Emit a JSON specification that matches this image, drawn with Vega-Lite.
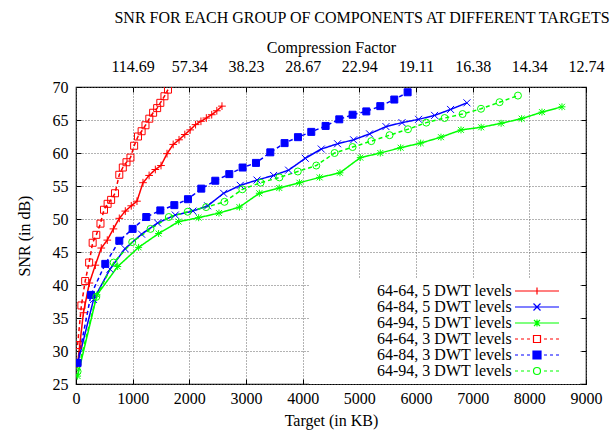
{
  "$schema": "https://vega.github.io/schema/vega-lite/v6.json",
  "width": 510,
  "height": 297,
  "autosize": {"type": "none"},
  "padding": {"left": 76, "top": 87, "right": 29, "bottom": 52},
  "background": "white",
  "title": {"text": "SNR FOR EACH GROUP OF COMPONENTS AT DIFFERENT TARGETS", "font": "Liberation Serif", "fontSize": 16, "fontWeight": "normal", "color": "black", "anchor": "middle", "dx": 31, "offset": 13},
  "config": {
    "view": {"stroke": "black", "strokeWidth": 1.2},
    "axis": {"labelFont": "Liberation Serif", "titleFont": "Liberation Serif", "labelFontSize": 16, "titleFontSize": 16, "titleFontWeight": "normal", "labelColor": "black", "titleColor": "black", "tickColor": "black", "domain": false, "gridColor": "#666666", "gridDash": [1, 2], "gridOpacity": 1, "gridWidth": 1, "tickSize": -5, "labelFlush": false, "labelOverlap": false, "labelBound": false}
  },
  "data": {"values": [
    {"series": "64-64, 5 DWT levels", "target": 28, "snr": 28.0},
    {"series": "64-64, 5 DWT levels", "target": 131, "snr": 35.8},
    {"series": "64-64, 5 DWT levels", "target": 236, "snr": 40.3},
    {"series": "64-64, 5 DWT levels", "target": 341, "snr": 43.0},
    {"series": "64-64, 5 DWT levels", "target": 446, "snr": 45.6},
    {"series": "64-64, 5 DWT levels", "target": 552, "snr": 46.8},
    {"series": "64-64, 5 DWT levels", "target": 660, "snr": 48.5},
    {"series": "64-64, 5 DWT levels", "target": 764, "snr": 50.1},
    {"series": "64-64, 5 DWT levels", "target": 870, "snr": 51.2},
    {"series": "64-64, 5 DWT levels", "target": 975, "snr": 52.0},
    {"series": "64-64, 5 DWT levels", "target": 1076, "snr": 52.7},
    {"series": "64-64, 5 DWT levels", "target": 1182, "snr": 55.5},
    {"series": "64-64, 5 DWT levels", "target": 1290, "snr": 56.6},
    {"series": "64-64, 5 DWT levels", "target": 1400, "snr": 57.5},
    {"series": "64-64, 5 DWT levels", "target": 1500, "snr": 58.1},
    {"series": "64-64, 5 DWT levels", "target": 1606, "snr": 59.9},
    {"series": "64-64, 5 DWT levels", "target": 1715, "snr": 61.3},
    {"series": "64-64, 5 DWT levels", "target": 1818, "snr": 62.0},
    {"series": "64-64, 5 DWT levels", "target": 1920, "snr": 62.8},
    {"series": "64-64, 5 DWT levels", "target": 2015, "snr": 63.5},
    {"series": "64-64, 5 DWT levels", "target": 2110, "snr": 64.3},
    {"series": "64-64, 5 DWT levels", "target": 2205, "snr": 64.8},
    {"series": "64-64, 5 DWT levels", "target": 2300, "snr": 65.3},
    {"series": "64-64, 5 DWT levels", "target": 2395, "snr": 65.8},
    {"series": "64-64, 5 DWT levels", "target": 2485, "snr": 66.4},
    {"series": "64-64, 5 DWT levels", "target": 2576, "snr": 67.1},

    {"series": "64-84, 5 DWT levels", "target": 28, "snr": 28.1},
    {"series": "64-84, 5 DWT levels", "target": 310, "snr": 37.8},
    {"series": "64-84, 5 DWT levels", "target": 600, "snr": 42.4},
    {"series": "64-84, 5 DWT levels", "target": 865, "snr": 45.5},
    {"series": "64-84, 5 DWT levels", "target": 1158, "snr": 47.7},
    {"series": "64-84, 5 DWT levels", "target": 1440, "snr": 49.4},
    {"series": "64-84, 5 DWT levels", "target": 1752, "snr": 50.6},
    {"series": "64-84, 5 DWT levels", "target": 2064, "snr": 51.2},
    {"series": "64-84, 5 DWT levels", "target": 2323, "snr": 52.0},
    {"series": "64-84, 5 DWT levels", "target": 2605, "snr": 53.9},
    {"series": "64-84, 5 DWT levels", "target": 2899, "snr": 55.1},
    {"series": "64-84, 5 DWT levels", "target": 3194, "snr": 55.9},
    {"series": "64-84, 5 DWT levels", "target": 3487, "snr": 56.6},
    {"series": "64-84, 5 DWT levels", "target": 3752, "snr": 57.4},
    {"series": "64-84, 5 DWT levels", "target": 4046, "snr": 59.2},
    {"series": "64-84, 5 DWT levels", "target": 4328, "snr": 60.6},
    {"series": "64-84, 5 DWT levels", "target": 4616, "snr": 61.4},
    {"series": "64-84, 5 DWT levels", "target": 4899, "snr": 62.0},
    {"series": "64-84, 5 DWT levels", "target": 5181, "snr": 62.9},
    {"series": "64-84, 5 DWT levels", "target": 5470, "snr": 64.0},
    {"series": "64-84, 5 DWT levels", "target": 5753, "snr": 64.6},
    {"series": "64-84, 5 DWT levels", "target": 6046, "snr": 65.1},
    {"series": "64-84, 5 DWT levels", "target": 6328, "snr": 65.7},
    {"series": "64-84, 5 DWT levels", "target": 6610, "snr": 66.6},
    {"series": "64-84, 5 DWT levels", "target": 6899, "snr": 67.6},

    {"series": "64-94, 5 DWT levels", "target": 28, "snr": 26.2},
    {"series": "64-94, 5 DWT levels", "target": 370, "snr": 38.5},
    {"series": "64-94, 5 DWT levels", "target": 736, "snr": 42.8},
    {"series": "64-94, 5 DWT levels", "target": 1105, "snr": 45.7},
    {"series": "64-94, 5 DWT levels", "target": 1458, "snr": 47.8},
    {"series": "64-94, 5 DWT levels", "target": 1811, "snr": 49.6},
    {"series": "64-94, 5 DWT levels", "target": 2164, "snr": 50.2},
    {"series": "64-94, 5 DWT levels", "target": 2523, "snr": 50.9},
    {"series": "64-94, 5 DWT levels", "target": 2884, "snr": 51.8},
    {"series": "64-94, 5 DWT levels", "target": 3235, "snr": 53.9},
    {"series": "64-94, 5 DWT levels", "target": 3587, "snr": 54.7},
    {"series": "64-94, 5 DWT levels", "target": 3943, "snr": 55.5},
    {"series": "64-94, 5 DWT levels", "target": 4300, "snr": 56.3},
    {"series": "64-94, 5 DWT levels", "target": 4658, "snr": 57.0},
    {"series": "64-94, 5 DWT levels", "target": 5017, "snr": 59.3},
    {"series": "64-94, 5 DWT levels", "target": 5370, "snr": 60.0},
    {"series": "64-94, 5 DWT levels", "target": 5729, "snr": 60.8},
    {"series": "64-94, 5 DWT levels", "target": 6082, "snr": 61.5},
    {"series": "64-94, 5 DWT levels", "target": 6441, "snr": 62.4},
    {"series": "64-94, 5 DWT levels", "target": 6794, "snr": 63.5},
    {"series": "64-94, 5 DWT levels", "target": 7150, "snr": 63.9},
    {"series": "64-94, 5 DWT levels", "target": 7502, "snr": 64.5},
    {"series": "64-94, 5 DWT levels", "target": 7864, "snr": 65.2},
    {"series": "64-94, 5 DWT levels", "target": 8223, "snr": 66.2},
    {"series": "64-94, 5 DWT levels", "target": 8576, "snr": 67.0},

    {"series": "64-64, 3 DWT levels", "target": 28, "snr": 30.9},
    {"series": "64-64, 3 DWT levels", "target": 95, "snr": 36.9},
    {"series": "64-64, 3 DWT levels", "target": 162, "snr": 40.6},
    {"series": "64-64, 3 DWT levels", "target": 232, "snr": 43.4},
    {"series": "64-64, 3 DWT levels", "target": 294, "snr": 46.4},
    {"series": "64-64, 3 DWT levels", "target": 358, "snr": 47.6},
    {"series": "64-64, 3 DWT levels", "target": 432, "snr": 49.3},
    {"series": "64-64, 3 DWT levels", "target": 494, "snr": 51.4},
    {"series": "64-64, 3 DWT levels", "target": 558, "snr": 52.3},
    {"series": "64-64, 3 DWT levels", "target": 620, "snr": 52.9},
    {"series": "64-64, 3 DWT levels", "target": 688, "snr": 53.9},
    {"series": "64-64, 3 DWT levels", "target": 764, "snr": 56.7},
    {"series": "64-64, 3 DWT levels", "target": 826, "snr": 57.8},
    {"series": "64-64, 3 DWT levels", "target": 891, "snr": 58.6},
    {"series": "64-64, 3 DWT levels", "target": 961, "snr": 59.3},
    {"series": "64-64, 3 DWT levels", "target": 1026, "snr": 61.1},
    {"series": "64-64, 3 DWT levels", "target": 1094, "snr": 62.5},
    {"series": "64-64, 3 DWT levels", "target": 1158, "snr": 63.3},
    {"series": "64-64, 3 DWT levels", "target": 1226, "snr": 64.2},
    {"series": "64-64, 3 DWT levels", "target": 1294, "snr": 65.2},
    {"series": "64-64, 3 DWT levels", "target": 1361, "snr": 66.1},
    {"series": "64-64, 3 DWT levels", "target": 1432, "snr": 66.8},
    {"series": "64-64, 3 DWT levels", "target": 1488, "snr": 67.6},
    {"series": "64-64, 3 DWT levels", "target": 1561, "snr": 68.6},
    {"series": "64-64, 3 DWT levels", "target": 1623, "snr": 69.6},

    {"series": "64-84, 3 DWT levels", "target": 28, "snr": 28.2},
    {"series": "64-84, 3 DWT levels", "target": 264, "snr": 38.5},
    {"series": "64-84, 3 DWT levels", "target": 517, "snr": 43.2},
    {"series": "64-84, 3 DWT levels", "target": 764, "snr": 46.7},
    {"series": "64-84, 3 DWT levels", "target": 999, "snr": 48.5},
    {"series": "64-84, 3 DWT levels", "target": 1240, "snr": 50.3},
    {"series": "64-84, 3 DWT levels", "target": 1488, "snr": 51.3},
    {"series": "64-84, 3 DWT levels", "target": 1735, "snr": 52.1},
    {"series": "64-84, 3 DWT levels", "target": 1976, "snr": 53.0},
    {"series": "64-84, 3 DWT levels", "target": 2211, "snr": 54.6},
    {"series": "64-84, 3 DWT levels", "target": 2458, "snr": 55.8},
    {"series": "64-84, 3 DWT levels", "target": 2705, "snr": 56.8},
    {"series": "64-84, 3 DWT levels", "target": 2940, "snr": 57.8},
    {"series": "64-84, 3 DWT levels", "target": 3176, "snr": 58.5},
    {"series": "64-84, 3 DWT levels", "target": 3429, "snr": 60.1},
    {"series": "64-84, 3 DWT levels", "target": 3681, "snr": 61.5},
    {"series": "64-84, 3 DWT levels", "target": 3917, "snr": 62.4},
    {"series": "64-84, 3 DWT levels", "target": 4152, "snr": 63.2},
    {"series": "64-84, 3 DWT levels", "target": 4405, "snr": 64.1},
    {"series": "64-84, 3 DWT levels", "target": 4646, "snr": 65.1},
    {"series": "64-84, 3 DWT levels", "target": 4881, "snr": 65.8},
    {"series": "64-84, 3 DWT levels", "target": 5123, "snr": 66.3},
    {"series": "64-84, 3 DWT levels", "target": 5370, "snr": 67.1},
    {"series": "64-84, 3 DWT levels", "target": 5617, "snr": 68.1},
    {"series": "64-84, 3 DWT levels", "target": 5852, "snr": 69.2},

    {"series": "64-94, 3 DWT levels", "target": 28, "snr": 26.9},
    {"series": "64-94, 3 DWT levels", "target": 358, "snr": 38.2},
    {"series": "64-94, 3 DWT levels", "target": 664, "snr": 43.4},
    {"series": "64-94, 3 DWT levels", "target": 992, "snr": 46.5},
    {"series": "64-94, 3 DWT levels", "target": 1315, "snr": 48.5},
    {"series": "64-94, 3 DWT levels", "target": 1638, "snr": 50.3},
    {"series": "64-94, 3 DWT levels", "target": 1972, "snr": 51.1},
    {"series": "64-94, 3 DWT levels", "target": 2296, "snr": 51.8},
    {"series": "64-94, 3 DWT levels", "target": 2620, "snr": 52.6},
    {"series": "64-94, 3 DWT levels", "target": 2935, "snr": 54.5},
    {"series": "64-94, 3 DWT levels", "target": 3258, "snr": 55.5},
    {"series": "64-94, 3 DWT levels", "target": 3590, "snr": 56.3},
    {"series": "64-94, 3 DWT levels", "target": 3914, "snr": 57.2},
    {"series": "64-94, 3 DWT levels", "target": 4240, "snr": 58.1},
    {"series": "64-94, 3 DWT levels", "target": 4563, "snr": 60.0},
    {"series": "64-94, 3 DWT levels", "target": 4881, "snr": 60.9},
    {"series": "64-94, 3 DWT levels", "target": 5211, "snr": 61.8},
    {"series": "64-94, 3 DWT levels", "target": 5534, "snr": 62.7},
    {"series": "64-94, 3 DWT levels", "target": 5858, "snr": 63.6},
    {"series": "64-94, 3 DWT levels", "target": 6181, "snr": 64.6},
    {"series": "64-94, 3 DWT levels", "target": 6505, "snr": 65.3},
    {"series": "64-94, 3 DWT levels", "target": 6822, "snr": 65.9},
    {"series": "64-94, 3 DWT levels", "target": 7147, "snr": 66.7},
    {"series": "64-94, 3 DWT levels", "target": 7475, "snr": 67.7},
    {"series": "64-94, 3 DWT levels", "target": 7799, "snr": 68.7}
  ]},
  "layer": [
    {
      "mark": {"type": "line", "clip": true},
      "encoding": {
        "x": {"field": "target", "type": "quantitative", "scale": {"domain": [0, 9000], "nice": false, "zero": false},
              "axis": {"orient": "bottom", "title": "Target (in KB)", "format": "d", "values": [0, 1000, 2000, 3000, 4000, 5000, 6000, 7000, 8000, 9000], "grid": true, "labelPadding": 11, "titlePadding": 6}},
        "y": {"field": "snr", "type": "quantitative", "scale": {"domain": [25, 70], "nice": false, "zero": false},
              "axis": {"orient": "left", "title": "SNR (in dB)", "values": [25, 30, 35, 40, 45, 50, 55, 60, 65, 70], "grid": true, "labelPadding": 13, "titlePadding": 20}},
        "color": {"field": "series", "type": "nominal",
          "scale": {"domain": ["64-64, 5 DWT levels", "64-84, 5 DWT levels", "64-94, 5 DWT levels", "64-64, 3 DWT levels", "64-84, 3 DWT levels", "64-94, 3 DWT levels"],
                    "range": ["#ff0000", "#0000ff", "#00ff00", "#ff0000", "#0000ff", "#00ff00"]}, "legend": null},
        "strokeDash": {"field": "series", "type": "nominal",
          "scale": {"domain": ["64-64, 5 DWT levels", "64-84, 5 DWT levels", "64-94, 5 DWT levels", "64-64, 3 DWT levels", "64-84, 3 DWT levels", "64-94, 3 DWT levels"],
                    "range": [[1, 0], [1, 0], [1, 0], [4, 3], [4, 3], [4, 3]]}, "legend": null},
        "strokeWidth": {"field": "series", "type": "nominal",
          "scale": {"domain": ["64-64, 5 DWT levels", "64-84, 5 DWT levels", "64-94, 5 DWT levels", "64-64, 3 DWT levels", "64-84, 3 DWT levels", "64-94, 3 DWT levels"],
                    "range": [1.5, 1.5, 1.5, 1, 1, 1]}, "legend": null}
      }
    },
    {
      "mark": {"type": "point", "filled": false, "size": 49, "strokeWidth": 1, "opacity": 1, "clip": true},
      "encoding": {
        "x": {"field": "target", "type": "quantitative", "scale": {"domain": [0, 9000], "nice": false, "zero": false},
              "axis": {"orient": "top", "title": "Compression Factor", "values": [1000, 2000, 3000, 4000, 5000, 6000, 7000, 8000, 9000], "labelExpr": "format(114688 / datum.value, '.2f')", "grid": false, "labelPadding": 18, "titlePadding": 3}},
        "y": {"field": "snr", "type": "quantitative", "scale": {"domain": [25, 70], "nice": false, "zero": false},
              "axis": {"orient": "right", "title": null, "labels": false, "values": [25, 30, 35, 40, 45, 50, 55, 60, 65, 70], "grid": false}},
        "color": {"field": "series", "type": "nominal",
          "scale": {"domain": ["64-64, 5 DWT levels", "64-84, 5 DWT levels", "64-94, 5 DWT levels", "64-64, 3 DWT levels", "64-84, 3 DWT levels", "64-94, 3 DWT levels"],
                    "range": ["#ff0000", "#0000ff", "#00ff00", "#ff0000", "#0000ff", "#00ff00"]}, "legend": null},
        "shape": {"field": "series", "type": "nominal",
          "scale": {"domain": ["64-64, 5 DWT levels", "64-84, 5 DWT levels", "64-94, 5 DWT levels", "64-64, 3 DWT levels", "64-84, 3 DWT levels", "64-94, 3 DWT levels"],
                    "range": ["M-1.1,0L1.1,0M0,-1.1L0,1.1", "M-1,-1L1,1M1,-1L-1,1", "M-1,0L1,0M0,-1L0,1M-0.85,-0.85L0.85,0.85M0.85,-0.85L-0.85,0.85", "square", "square", "circle"]}, "legend": null},
        "fill": {"field": "series", "type": "nominal",
          "scale": {"domain": ["64-64, 5 DWT levels", "64-84, 5 DWT levels", "64-94, 5 DWT levels", "64-64, 3 DWT levels", "64-84, 3 DWT levels", "64-94, 3 DWT levels"],
                    "range": ["transparent", "transparent", "transparent", "transparent", "#0000ff", "transparent"]}, "legend": null}
      }
    },
    {
      "transform": [{"filter": "datum.snr < 0"}],
      "mark": {"type": "point", "filled": false, "size": 4, "strokeWidth": 1.2, "opacity": 1},
      "encoding": {
        "x": {"field": "target", "type": "quantitative", "scale": {"domain": [0, 9000]}, "axis": null},
        "y": {"field": "snr", "type": "quantitative", "scale": {"domain": [25, 70]}, "axis": null},
        "color": {"field": "series", "type": "nominal",
          "scale": {"domain": ["64-64, 5 DWT levels", "64-84, 5 DWT levels", "64-94, 5 DWT levels", "64-64, 3 DWT levels", "64-84, 3 DWT levels", "64-94, 3 DWT levels"],
                    "range": ["#ff0000", "#0000ff", "#00ff00", "#ff0000", "#0000ff", "#00ff00"]},
          "legend": {"orient": "none", "legendX": 233, "legendY": 191, "title": null, "padding": 5, "fillColor": "white", "strokeColor": null,
                     "labelFont": "Liberation Serif", "labelFontSize": 16, "labelColor": "black", "labelLimit": 400,
                     "symbolSize": 4, "symbolStrokeWidth": 1.2, "labelOffset": 47, "rowPadding": 0}},
        "shape": {"field": "series", "type": "nominal",
          "scale": {"domain": ["64-64, 5 DWT levels", "64-84, 5 DWT levels", "64-94, 5 DWT levels", "64-64, 3 DWT levels", "64-84, 3 DWT levels", "64-94, 3 DWT levels"],
                    "range": [
                      "M250,0L250,0M193,0L237,0M211.5,0L218.5,0M215,-3.5L215,3.5",
                      "M250,0L250,0M193,0L237,0M211.5,-3.5L218.5,3.5M218.5,-3.5L211.5,3.5",
                      "M250,0L250,0M193,0L237,0M211.5,0L218.5,0M215,-3.5L215,3.5M212,-3L218,3M218,-3L212,3",
                      "M250,0L250,0M193,0L196,0M199,0L202,0M205,0L208,0M222,0L225,0M228,0L231,0M234,0L237,0M211.5,-3.5L218.5,-3.5L218.5,3.5L211.5,3.5Z",
                      "M250,0L250,0M193,0L196,0M199,0L202,0M205,0L208,0M222,0L225,0M228,0L231,0M234,0L237,0M211,-4L219,-4L219,4L211,4ZM211,-3L219,-3M211,-2L219,-2M211,-1L219,-1M211,0L219,0M211,1L219,1M211,2L219,2M211,3L219,3",
                      "M250,0L250,0M193,0L196,0M199,0L202,0M205,0L208,0M222,0L225,0M228,0L231,0M234,0L237,0M218.5,0A3.5,3.5 0 1,1 211.5,0A3.5,3.5 0 1,1 218.5,0Z"
                    ]},
          "legend": {"orient": "none", "legendX": 233, "legendY": 191, "title": null, "padding": 5, "fillColor": "white", "strokeColor": null,
                     "labelFont": "Liberation Serif", "labelFontSize": 16, "labelColor": "black", "labelLimit": 400,
                     "symbolSize": 4, "symbolStrokeWidth": 1.2, "labelOffset": 47, "rowPadding": 0}}
      }
    }
  ],
  "resolve": {"scale": {"x": "independent", "y": "independent", "color": "independent", "shape": "independent"}}
}
